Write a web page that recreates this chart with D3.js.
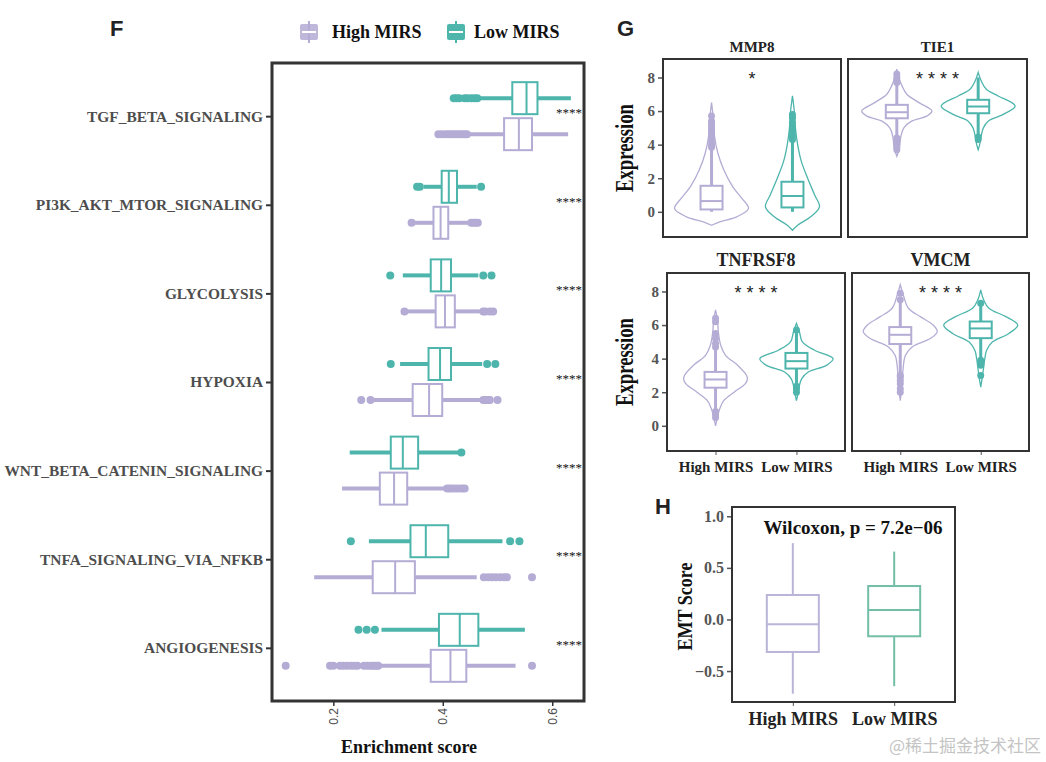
<!DOCTYPE html>
<html>
<head>
<meta charset="utf-8">
<script src="https://cdn.jsdelivr.net/npm/d3@7"></script>
<style>
  body { margin: 0; background: #fff; }
  svg text { font-family: 'Liberation Serif', 'Times New Roman', serif; }
</style>
</head>
<body>
<svg id="chart" width="1046" height="762"></svg>
<script>
// ---------- panel F data ----------
const pathways = ['TGF_BETA_SIGNALING', 'PI3K_AKT_MTOR_SIGNALING', 'GLYCOLYSIS', 'HYPOXIA',
  'WNT_BETA_CATENIN_SIGNALING', 'TNFA_SIGNALING_VIA_NFKB', 'ANGIOGENESIS'];
const groups = ['High MIRS', 'Low MIRS'];
const enrichTicks = [0.2, 0.4, 0.6];

// [whisker low, q1, median, q3, whisker high]
const lowStats = [
  [0.468, 0.527, 0.553, 0.573, 0.634],
  [0.365, 0.398, 0.411, 0.426, 0.462],
  [0.327, 0.378, 0.397, 0.415, 0.465],
  [0.322, 0.374, 0.395, 0.415, 0.472],
  [0.230, 0.305, 0.327, 0.355, 0.430],
  [0.265, 0.341, 0.369, 0.410, 0.509],
  [0.288, 0.393, 0.431, 0.465, 0.550]
];
const highStats = [
  [0.448, 0.512, 0.539, 0.563, 0.629],
  [0.348, 0.383, 0.396, 0.410, 0.448],
  [0.335, 0.387, 0.404, 0.422, 0.470],
  [0.272, 0.345, 0.375, 0.399, 0.472],
  [0.216, 0.285, 0.311, 0.335, 0.405],
  [0.165, 0.272, 0.313, 0.349, 0.462],
  [0.284, 0.378, 0.414, 0.443, 0.533]
];
const lowOutliers = [
  [0.42, 0.425, 0.43, 0.44, 0.445, 0.452, 0.458, 0.463],
  [0.353, 0.358, 0.47],
  [0.304, 0.474, 0.489],
  [0.305, 0.481, 0.496],
  [0.434],
  [0.232, 0.523, 0.54],
  [0.246, 0.261, 0.276]
];
const highOutliers = [
  [0.392, 0.398, 0.405, 0.41, 0.415, 0.42, 0.425, 0.43, 0.435, 0.44, 0.444],
  [0.343, 0.452, 0.456, 0.46, 0.464],
  [0.33, 0.474, 0.478, 0.486, 0.492],
  [0.251, 0.268, 0.474, 0.478, 0.483, 0.486, 0.5],
  [0.408, 0.413, 0.418, 0.424, 0.43, 0.436, 0.44],
  [0.475, 0.483, 0.49, 0.497, 0.505, 0.512, 0.517, 0.563],
  [0.113, 0.194, 0.2, 0.212, 0.218, 0.225, 0.232, 0.238, 0.244, 0.256, 0.262, 0.268, 0.272, 0.276, 0.28, 0.282, 0.563]
];
const pathwaySig = ['****', '****', '****', '****', '****', '****', '****'];

// ---------- panel G data ----------
const genes = ['MMP8', 'TIE1', 'TNFRSF8', 'VMCM'];
const geneSig = ['*', '****', '****', '****'];
const exprTicks = [0, 2, 4, 6, 8];
const geneHighBox = [
  [0, 0.14, 0.64, 1.55, 3.8],
  [4.5, 5.57, 5.93, 6.37, 7.6],
  [0.9, 2.27, 2.76, 3.21, 4.6],
  [3.1, 4.87, 5.42, 5.88, 7.4]
];
const geneLowBox = [
  [0, 0.26, 0.94, 1.79, 4.2],
  [4.6, 5.87, 6.27, 6.67, 8.0],
  [2.4, 3.41, 3.85, 4.34, 5.6],
  [4.0, 5.22, 5.8, 6.21, 7.2]
];
const geneHighOut = [
  [3.85, 4.0, 4.2, 4.4, 4.6, 4.8, 5.0, 5.2, 5.4, 5.7],
  [7.7, 7.85, 8.0, 8.2, 3.7, 3.85, 4.0, 4.2, 4.4],
  [4.7, 4.9, 5.2, 5.5, 6.2, 6.4, 0.5, 0.7, 0.85],
  [7.5, 7.9, 2.0, 2.2, 2.5, 2.7, 2.9, 3.0]
];
const geneLowOut = [
  [4.3, 4.5, 4.7, 4.9, 5.1, 5.3, 5.6, 5.8],
  [4.3, 4.45],
  [5.7, 2.0, 2.2, 2.35],
  [7.3, 3.6, 3.75, 3.9, 3.0]
];
// violin outlines: [expression, relative half width]
const violinHigh = [
  [[6.5, 0], [5.5, 0.05], [4.5, 0.08], [3.5, 0.17], [2.5, 0.33], [1.5, 0.57], [0.8, 0.82], [0.2, 1.0], [-0.3, 0.68], [-0.6, 0.22], [-0.8, 0]],
  [[8.5, 0], [8, 0.05], [7.5, 0.14], [7, 0.27], [6.5, 0.6], [6.0, 0.95], [5.7, 0.81], [5.4, 0.4], [5, 0.19], [4.5, 0.11], [4, 0.08], [3.5, 0.03], [3.3, 0]],
  [[6.9, 0], [6.3, 0.05], [5.5, 0.08], [4.8, 0.14], [4.2, 0.27], [3.6, 0.6], [3.0, 0.84], [2.75, 0.86], [2.5, 0.8], [2.0, 0.5], [1.5, 0.22], [1.0, 0.11], [0.5, 0.05], [0, 0]],
  [[8.4, 0], [7.8, 0.08], [7, 0.22], [6.5, 0.54], [6, 0.89], [5.6, 1.0], [5.2, 0.81], [4.7, 0.32], [4.2, 0.14], [3.5, 0.08], [2.5, 0.05], [1.5, 0]]
];
const violinLow = [
  [[6.9, 0], [6, 0.05], [5, 0.08], [4, 0.14], [3, 0.24], [2, 0.41], [1, 0.6], [0.3, 0.73], [-0.3, 0.49], [-0.8, 0.14], [-1.1, 0]],
  [[8.3, 0], [7.8, 0.08], [7.3, 0.22], [6.9, 0.54], [6.3, 1.0], [5.8, 0.68], [5.4, 0.27], [5, 0.14], [4.5, 0.08], [4, 0.04], [3.7, 0]],
  [[6.1, 0], [5.6, 0.08], [5, 0.16], [4.5, 0.49], [4.0, 0.99], [3.6, 0.81], [3.2, 0.32], [2.8, 0.14], [2.4, 0.08], [2.0, 0.05], [1.5, 0]],
  [[8.1, 0], [7.5, 0.08], [7, 0.22], [6.5, 0.68], [6, 1.0], [5.5, 0.76], [5, 0.32], [4.5, 0.16], [4, 0.11], [3.5, 0.08], [3, 0.05], [2.3, 0]]
];

// ---------- panel H data ----------
const emtTicks = [-0.5, 0, 0.5, 1.0];
const emtHigh = [-0.72, -0.315, -0.046, 0.237, 0.74];
const emtLow = [-0.647, -0.163, 0.091, 0.324, 0.658];
const emtLabel = 'Wilcoxon, p = 7.2e\u221206';

const purple = '#b4acd4';
const teal = '#4db5ac';
const colour = { 'High MIRS': purple, 'Low MIRS': teal };
const serif = "'Liberation Serif', 'Times New Roman', serif";
const sans = "'Liberation Sans', Arial, sans-serif";

const svg = d3.select('#chart');

// panel letters
[['F', 110, 36], ['G', 617, 36], ['H', 655, 514]].forEach(([t, x, y]) => {
  svg.append('text').attr('x', x).attr('y', y).text(t)
    .style('font-family', sans).style('font-weight', 'bold').style('font-size', '22px').attr('fill', '#222');
});

// ================= Panel F =================
const F = { left: 272, right: 584, top: 63, bottom: 701 };
const xF = d3.scaleLinear().domain([0.088, 0.658]).range([F.left, F.right]);
const yF = d3.scalePoint().domain(pathways).range([F.top, F.bottom]).padding(0.6);
const dodge = d3.scaleBand().domain(['Low MIRS', 'High MIRS']).range([-36, 36]);
const boxH = 32;

const gF = svg.append('g');

// y axis
const yAxisF = gF.append('g')
  .attr('transform', `translate(${F.left - 1},0)`)
  .call(d3.axisLeft(yF).tickSize(5).tickPadding(3));
yAxisF.select('.domain').remove();
yAxisF.selectAll('line').attr('stroke', '#333').attr('stroke-width', 2);
yAxisF.selectAll('text')
  .style('font-family', serif).style('font-weight', 'bold').style('font-size', '15.4px').attr('fill', '#4d4d4d');

// x axis
const xAxisF = gF.append('g')
  .attr('transform', `translate(0,${F.bottom + 1})`)
  .call(d3.axisBottom(xF).tickValues(enrichTicks).tickSize(4).tickFormat(d3.format('.1f')));
xAxisF.select('.domain').remove();
xAxisF.selectAll('line').attr('stroke', '#333').attr('stroke-width', 1.5);
xAxisF.selectAll('text')
  .attr('transform', 'translate(0,6) rotate(-90)')
  .attr('x', 0).attr('y', 0).attr('dy', '0.35em')
  .style('text-anchor', 'end')
  .style('font-family', sans).style('font-size', '12px').attr('fill', '#4d4d4d');

gF.append('text').attr('x', 409).attr('y', 753)
  .attr('text-anchor', 'middle').text('Enrichment score')
  .style('font-weight', 'bold').style('font-size', '18px').attr('fill', '#111');

function drawHBox(g, stats, outs, cy, col) {
  const [wlo, q1, med, q3, whi] = stats;
  g.append('line').attr('x1', xF(wlo)).attr('x2', xF(q1)).attr('y1', cy).attr('y2', cy)
    .attr('stroke', col).attr('stroke-width', 4);
  g.append('line').attr('x1', xF(q3)).attr('x2', xF(whi)).attr('y1', cy).attr('y2', cy)
    .attr('stroke', col).attr('stroke-width', 4);
  g.selectAll(null).data(outs).enter().append('circle')
    .attr('cx', d => xF(d)).attr('cy', cy).attr('r', 4).attr('fill', col);
  g.append('rect').attr('x', xF(q1)).attr('y', cy - boxH / 2)
    .attr('width', xF(q3) - xF(q1)).attr('height', boxH)
    .attr('fill', '#fff').attr('stroke', col).attr('stroke-width', 2);
  g.append('line').attr('x1', xF(med)).attr('x2', xF(med))
    .attr('y1', cy - boxH / 2).attr('y2', cy + boxH / 2)
    .attr('stroke', col).attr('stroke-width', 2);
}

pathways.forEach((p, i) => {
  drawHBox(gF, lowStats[i], lowOutliers[i], yF(p) + dodge('Low MIRS') + dodge.bandwidth() / 2, teal);
  drawHBox(gF, highStats[i], highOutliers[i], yF(p) + dodge('High MIRS') + dodge.bandwidth() / 2, purple);
  gF.append('text').attr('x', F.right - 2).attr('y', yF(p) + 1)
    .attr('text-anchor', 'end').text(pathwaySig[i])
    .style('font-family', serif).style('font-size', '13px').attr('fill', '#111');
});

gF.append('rect').attr('x', F.left).attr('y', F.top)
  .attr('width', F.right - F.left).attr('height', F.bottom - F.top)
  .attr('fill', 'none').attr('stroke', '#333').attr('stroke-width', 3);

// legend
const legendPos = [[300, 332], [447, 474]];
groups.forEach((grp, i) => {
  const [kx, tx] = legendPos[i];
  const lg = svg.append('g');
  lg.append('line').attr('x1', kx + 9).attr('x2', kx + 9).attr('y1', 21).attr('y2', 43)
    .attr('stroke', colour[grp]).attr('stroke-width', 2);
  lg.append('rect').attr('x', kx).attr('y', 24).attr('width', 18).attr('height', 16).attr('rx', 2)
    .attr('fill', colour[grp]).attr('opacity', grp === 'High MIRS' ? 0.85 : 1);
  lg.append('line').attr('x1', kx + 2).attr('x2', kx + 16).attr('y1', 32).attr('y2', 32)
    .attr('stroke', '#fff').attr('stroke-width', 2);
  lg.append('text').attr('x', tx).attr('y', 38).text(grp)
    .style('font-weight', 'bold').style('font-size', '18px').attr('fill', '#111');
});

// ================= Panel G =================
const facets = [
  { x0: 663, x1: 841, y0: 59, y1: 237, titleSize: 15, bottomAxis: false },
  { x0: 848, x1: 1027, y0: 59, y1: 237, titleSize: 15, bottomAxis: false },
  { x0: 667, x1: 845, y0: 273, y1: 451, titleSize: 18, bottomAxis: true },
  { x0: 852, x1: 1029, y0: 273, y1: 451, titleSize: 18, bottomAxis: true }
];
const maxHalf = 37;
const wScale = d3.scaleLinear().domain([0, 1]).range([0, maxHalf]);

genes.forEach((gene, i) => {
  const f = facets[i];
  const g = svg.append('g');
  const y = d3.scaleLinear().domain([-1.5, 9.1]).range([f.y1, f.y0]);
  const x = d3.scalePoint().domain(groups).range([f.x0, f.x1]).padding(0.6);

  g.append('text').attr('x', (f.x0 + f.x1) / 2).attr('y', f.y0 - 7)
    .attr('text-anchor', 'middle').text(gene)
    .style('font-weight', 'bold').style('font-size', f.titleSize + 'px').attr('fill', '#222');

  if (i % 2 === 0) {
    const ya = g.append('g').attr('transform', `translate(${f.x0 - 1},0)`)
      .call(d3.axisLeft(y).tickValues(exprTicks).tickSize(4).tickPadding(3));
    ya.select('.domain').remove();
    ya.selectAll('line').attr('stroke', '#555').attr('stroke-width', 1.5);
    ya.selectAll('text').style('font-weight', 'bold').style('font-size', '15px').attr('fill', '#555');
    g.append('text')
      .attr('transform', `translate(633,${(f.y0 + f.y1) / 2}) rotate(-90)`)
      .attr('text-anchor', 'middle').text('Expression')
      .attr('textLength', 88).attr('lengthAdjust', 'spacingAndGlyphs')
      .style('font-weight', 'bold').style('font-size', '25px').attr('fill', '#111');
  }
  if (f.bottomAxis) {
    const xa = g.append('g').attr('transform', `translate(0,${f.y1 + 1})`)
      .call(d3.axisBottom(x).tickSize(3).tickPadding(6));
    xa.select('.domain').remove();
    xa.selectAll('line').attr('stroke', '#555');
    xa.selectAll('text').style('font-weight', 'bold').style('font-size', '15px').attr('fill', '#222');
  }

  const sets = [
    ['High MIRS', violinHigh[i], geneHighBox[i], geneHighOut[i]],
    ['Low MIRS', violinLow[i], geneLowBox[i], geneLowOut[i]]
  ];
  sets.forEach(([grp, prof, box, outs]) => {
    const cx = x(grp);
    const col = colour[grp];
    const area = d3.area()
      .y(d => y(d[0]))
      .x0(d => cx - wScale(d[1]))
      .x1(d => cx + wScale(d[1]))
      .curve(d3.curveCatmullRom);
    g.append('path').attr('d', area(prof))
      .attr('fill', '#fff').attr('stroke', col).attr('stroke-width', 1.3);
    const [wlo, q1, med, q3, whi] = box;
    g.append('line').attr('x1', cx).attr('x2', cx).attr('y1', y(wlo)).attr('y2', y(whi))
      .attr('stroke', col).attr('stroke-width', 3);
    g.selectAll(null).data(outs).enter().append('circle')
      .attr('cx', cx).attr('cy', d => y(d)).attr('r', 3.5).attr('fill', col);
    const bw = 22;
    g.append('rect').attr('x', cx - bw / 2).attr('y', y(q3))
      .attr('width', bw).attr('height', y(q1) - y(q3))
      .attr('fill', '#fff').attr('stroke', col).attr('stroke-width', 2);
    g.append('line').attr('x1', cx - bw / 2).attr('x2', cx + bw / 2)
      .attr('y1', y(med)).attr('y2', y(med)).attr('stroke', col).attr('stroke-width', 2);
  });

  g.append('text').attr('x', (x('High MIRS') + x('Low MIRS')) / 2).attr('y', y(8) + 8)
    .attr('text-anchor', 'middle').text(geneSig[i].split('').join(' '))
    .style('font-family', sans).style('font-size', '18px').attr('fill', '#222');

  g.append('rect').attr('x', f.x0).attr('y', f.y0)
    .attr('width', f.x1 - f.x0).attr('height', f.y1 - f.y0)
    .attr('fill', 'none').attr('stroke', '#333').attr('stroke-width', 2);
});

// ================= Panel H =================
const H = { left: 732, right: 955, top: 507, bottom: 702 };
const xH = d3.scalePoint().domain(groups).range([H.left, H.right]).padding(0.6);
const yH = d3.scaleLinear().domain([-0.8, 1.09]).range([H.bottom, H.top]);
const gH = svg.append('g');

const yaH = gH.append('g').attr('transform', `translate(${H.left - 1},0)`)
  .call(d3.axisLeft(yH).tickValues(emtTicks).tickSize(4).tickPadding(3).tickFormat(d3.format('.1f')));
yaH.select('.domain').remove();
yaH.selectAll('line').attr('stroke', '#555').attr('stroke-width', 1.5);
yaH.selectAll('text').style('font-weight', 'bold').style('font-size', '16px').attr('fill', '#555');

const xaH = gH.append('g').attr('transform', `translate(0,${H.bottom + 1})`)
  .call(d3.axisBottom(xH).tickSize(3).tickPadding(6));
xaH.select('.domain').remove();
xaH.selectAll('line').attr('stroke', '#555');
xaH.selectAll('text').style('font-weight', 'bold').style('font-size', '18px').attr('fill', '#222');

gH.append('text')
  .attr('transform', `translate(692,${(H.top + H.bottom) / 2 + 2}) rotate(-90)`)
  .attr('text-anchor', 'middle').text('EMT Score')
  .attr('textLength', 88).attr('lengthAdjust', 'spacingAndGlyphs')
  .style('font-weight', 'bold').style('font-size', '21px').attr('fill', '#111');

const hColour = { 'High MIRS': '#b9b5d9', 'Low MIRS': '#72bea7' };
[['High MIRS', emtHigh], ['Low MIRS', emtLow]].forEach(([grp, s]) => {
  const cx = xH(grp);
  const col = hColour[grp];
  const bw = 52;
  gH.append('line').attr('x1', cx).attr('x2', cx).attr('y1', yH(s[0])).attr('y2', yH(s[4]))
    .attr('stroke', col).attr('stroke-width', 2);
  gH.append('rect').attr('x', cx - bw / 2).attr('y', yH(s[3]))
    .attr('width', bw).attr('height', yH(s[1]) - yH(s[3]))
    .attr('fill', '#fff').attr('stroke', col).attr('stroke-width', 2);
  gH.append('line').attr('x1', cx - bw / 2).attr('x2', cx + bw / 2)
    .attr('y1', yH(s[2])).attr('y2', yH(s[2])).attr('stroke', col).attr('stroke-width', 2);
});

gH.append('text').attr('x', 853).attr('y', 534).attr('text-anchor', 'middle').text(emtLabel)
  .style('font-weight', 'bold').style('font-size', '19px').attr('fill', '#111');

gH.append('rect').attr('x', H.left).attr('y', H.top)
  .attr('width', H.right - H.left).attr('height', H.bottom - H.top)
  .attr('fill', 'none').attr('stroke', '#333').attr('stroke-width', 2);

// watermark
svg.append('text').attr('x', 1041).attr('y', 752).attr('text-anchor', 'end')
  .text('@稀土掘金技术社区')
  .style('font-family', "'Noto Sans CJK SC', sans-serif").style('font-size', '17px').attr('fill', '#c4c4c4');
</script>
</body>
</html>
